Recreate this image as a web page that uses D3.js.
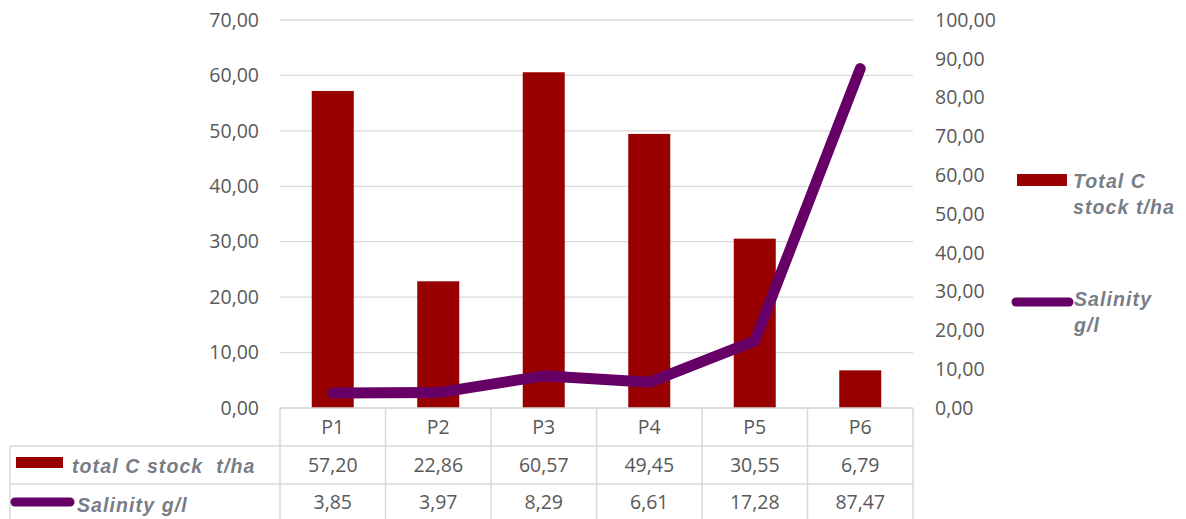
<!DOCTYPE html>
<html><head><meta charset="utf-8">
<script src="https://cdn.jsdelivr.net/npm/d3@7"></script>
<style>body{margin:0;background:#fff}svg{display:block}</style>
</head><body>
<svg id="c" width="1186" height="519"></svg>
<script>
const categories = ["P1","P2","P3","P4","P5","P6"];
const carbonStock = [57.20,22.86,60.57,49.45,30.55,6.79];
const salinity = [3.85,3.97,8.29,6.61,17.28,87.47];
const leftTicks = [0,10,20,30,40,50,60,70];
const rightTicks = [0,10,20,30,40,50,60,70,80,90,100];
const seriesNames = ["total C stock  t/ha","Salinity g/l"];
const legendNames = [["Total C","stock t/ha"],["Salinity","g/l"]];

const svg = d3.select("#c");
const font = "'Open Sans', 'Noto Sans', sans-serif";
const lfont = "'Liberation Sans', Arial, sans-serif";
const fs = 19.5;
const lfs = 19.5;
const txt = "#595959";
const red = "#990000", purple = "#660066";
const L = 280, R = 913, T = 20, B = 408;
const fmt = v => v.toFixed(2).replace(".", ",");

const x = d3.scaleBand().domain(categories).range([L, R]).paddingInner(0).paddingOuter(0);
const yL = d3.scaleLinear().domain([0,70]).range([B, T]);
const yR = d3.scaleLinear().domain([0,100]).range([B, T]);

// gridlines
svg.append("g").selectAll("line").data(leftTicks).join("line")
  .attr("x1", L).attr("x2", R).attr("y1", d=>yL(d)).attr("y2", d=>yL(d))
  .attr("stroke", "#d9d9d9").attr("stroke-width", 1.3);

// left axis
const axL = svg.append("g").attr("transform", `translate(${L},0)`)
  .call(d3.axisLeft(yL).tickValues(leftTicks).tickFormat(fmt).tickSize(0).tickPadding(21));
axL.select(".domain").remove();
axL.selectAll("text").attr("font-family", font).attr("font-size", fs).attr("fill", txt);

// right axis
const axR = svg.append("g").attr("transform", `translate(${R},0)`)
  .call(d3.axisRight(yR).tickValues(rightTicks).tickFormat(fmt).tickSize(0).tickPadding(22));
axR.select(".domain").remove();
axR.selectAll("text").attr("font-family", font).attr("font-size", fs).attr("fill", txt);

// bars
const bw = 42;
svg.append("g").selectAll("rect").data(categories).join("rect")
  .attr("x", d => x(d) + x.bandwidth()/2 - bw/2)
  .attr("width", bw)
  .attr("y", (d,i) => yL(carbonStock[i]))
  .attr("height", (d,i) => B - yL(carbonStock[i]))
  .attr("fill", red);

// line
const line = d3.line()
  .x((d,i) => x(categories[i]) + x.bandwidth()/2)
  .y(d => yR(d))
  .curve(d3.curveLinear);
svg.append("path").datum(salinity).attr("d", line)
  .attr("fill", "none").attr("stroke", purple).attr("stroke-width", 11)
  .attr("stroke-linecap", "round").attr("stroke-linejoin", "round");

// data table
const rowY = [408, 446, 484, 522];
const tbl = svg.append("g");
const gc = "#d9d9d9";
tbl.append("line").attr("x1", L).attr("x2", R).attr("y1", rowY[0]).attr("y2", rowY[0]).attr("stroke", gc).attr("stroke-width", 1.5);
[1,2].forEach(r => tbl.append("line").attr("x1", 10).attr("x2", R).attr("y1", rowY[r]).attr("y2", rowY[r]).attr("stroke", gc).attr("stroke-width", 1.5));
const vx = categories.map(c => x(c)).concat([R]);
tbl.selectAll("line.v").data(vx).join("line").attr("class","v")
  .attr("x1", d=>d).attr("x2", d=>d).attr("y1", rowY[0]).attr("y2", 519)
  .attr("stroke", gc).attr("stroke-width", 1.5);
tbl.append("line").attr("x1", 10).attr("x2", 10).attr("y1", rowY[1]).attr("y2", 519).attr("stroke", gc).attr("stroke-width", 1.5);

tbl.selectAll("text.h").data(categories).join("text").attr("class","h")
  .attr("x", d => x(d) + x.bandwidth()/2).attr("y", 434)
  .attr("text-anchor","middle").attr("font-family", font).attr("font-size", fs).attr("fill", txt)
  .text(d => d);
[carbonStock, salinity].forEach((arr, r) => {
  tbl.selectAll("text.r"+r).data(arr).join("text").attr("class","r"+r)
    .attr("x", (d,i) => x(categories[i]) + x.bandwidth()/2).attr("y", r===0 ? 472 : 509)
    .attr("text-anchor","middle").attr("font-family", font).attr("font-size", fs).attr("fill", txt)
    .text(fmt);
});
// table legend keys
const legTxt = "#777d87";
const ls = "1.1px";
tbl.append("rect").attr("x", 16).attr("y", 457).attr("width", 47).attr("height", 11).attr("fill", red);
tbl.append("text").attr("x", 72).attr("y", 473).attr("font-family", lfont).attr("font-size", lfs)
  .attr("font-style","italic").attr("font-weight","bold").attr("fill", legTxt).attr("letter-spacing", ls)
  .style("white-space","pre").text(seriesNames[0]);
tbl.append("line").attr("x1", 15).attr("x2", 70).attr("y1", 502).attr("y2", 502)
  .attr("stroke", purple).attr("stroke-width", 9).attr("stroke-linecap","round");
tbl.append("text").attr("x", 77).attr("y", 512).attr("font-family", lfont).attr("font-size", lfs)
  .attr("font-style","italic").attr("font-weight","bold").attr("fill", legTxt).attr("letter-spacing", ls)
  .text(seriesNames[1]);

// right legend
const lg = svg.append("g");
lg.append("rect").attr("x", 1017).attr("y", 174).attr("width", 50).attr("height", 12).attr("fill", red);
legendNames[0].forEach((t,i) => lg.append("text").attr("x", 1073).attr("y", 188 + i*26)
  .attr("font-family", lfont).attr("font-size", lfs).attr("font-style","italic").attr("font-weight","bold")
  .attr("letter-spacing", ls).attr("fill", legTxt).text(t));
lg.append("line").attr("x1", 1016).attr("x2", 1069).attr("y1", 302).attr("y2", 302)
  .attr("stroke", purple).attr("stroke-width", 9).attr("stroke-linecap","round");
legendNames[1].forEach((t,i) => lg.append("text").attr("x", 1074).attr("y", 306 + i*26)
  .attr("font-family", lfont).attr("font-size", lfs).attr("font-style","italic").attr("font-weight","bold")
  .attr("letter-spacing", ls).attr("fill", legTxt).text(t));
</script>
</body></html>
